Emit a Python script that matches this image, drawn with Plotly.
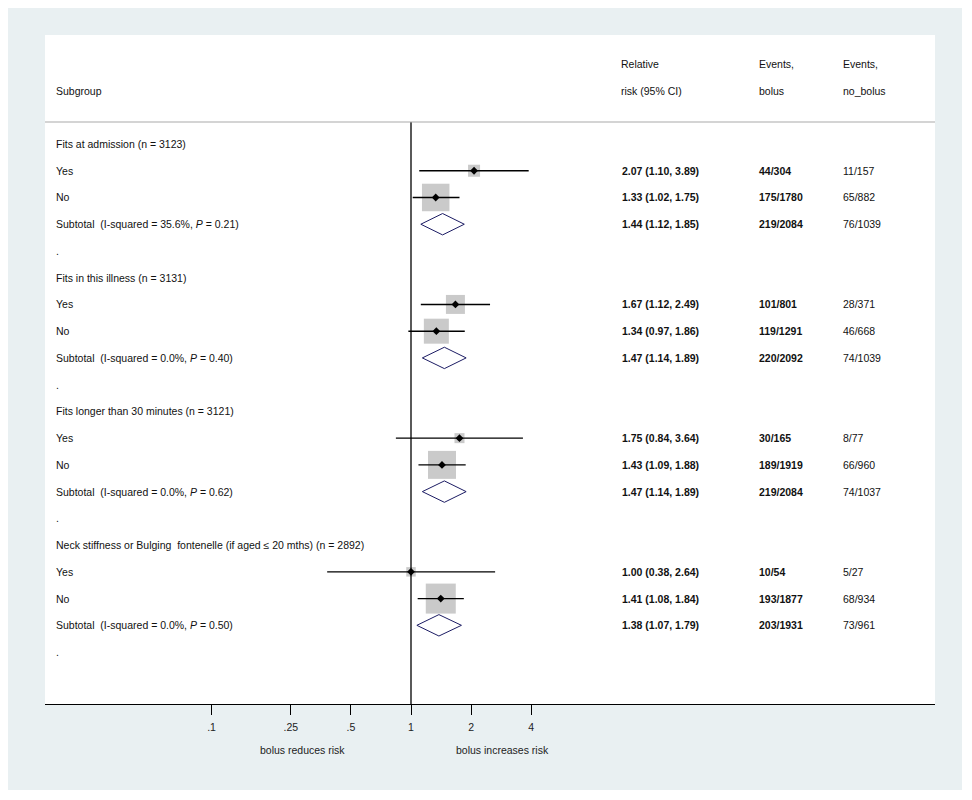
import plotly.graph_objects as go

# ---------------- data ----------------
labels = [
    "Fits at admission (n = 3123)", "Yes", "No",
    "Subtotal\u00a0\u00a0(I-squared = 35.6%, <i>P</i> = 0.21)", ".",
    "Fits in this illness (n = 3131)", "Yes", "No",
    "Subtotal\u00a0\u00a0(I-squared = 0.0%, <i>P</i> = 0.40)", ".",
    "Fits longer than 30 minutes (n = 3121)", "Yes", "No",
    "Subtotal\u00a0\u00a0(I-squared = 0.0%, <i>P</i> = 0.62)", ".",
    "Neck stiffness or Bulging\u00a0\u00a0fontenelle (if aged \u2264 20 mths) (n = 2892)", "Yes", "No",
    "Subtotal\u00a0\u00a0(I-squared = 0.0%, <i>P</i> = 0.50)", ".",
]
rr = [None, 2.07, 1.33, 1.44, None, None, 1.67, 1.34, 1.47, None,
      None, 1.75, 1.43, 1.47, None, None, 1.00, 1.41, 1.38, None]
ci_lo = [None, 1.10, 1.02, 1.12, None, None, 1.12, 0.97, 1.14, None,
         None, 0.84, 1.09, 1.14, None, None, 0.38, 1.08, 1.07, None]
ci_hi = [None, 3.89, 1.75, 1.85, None, None, 2.49, 1.86, 1.89, None,
         None, 3.64, 1.88, 1.89, None, None, 2.64, 1.84, 1.79, None]
weights = [None, 9.5, 49.7, None, None, None, 23.7, 41.1, None, None,
           None, 6.6, 51.5, None, None, None, 5.9, 59.2, None, None]
events_bolus = ["", "44/304", "175/1780", "219/2084", "", "", "101/801", "119/1291", "220/2092", "",
                "", "30/165", "189/1919", "219/2084", "", "", "10/54", "193/1877", "203/1931", ""]
events_nobolus = ["", "11/157", "65/882", "76/1039", "", "", "28/371", "46/668", "74/1039", "",
                  "", "8/77", "66/960", "74/1037", "", "", "5/27", "68/934", "73/961", ""]
tick_vals = [0.1, 0.25, 0.5, 1, 2, 4]
tick_text = [".1", ".25", ".5", "1", "2", "4"]
header_col1 = ["", "Subgroup"]
header_rr = ["Relative", "risk (95% CI)"]
header_eb = ["Events,", "bolus"]
header_en = ["Events,", "no_bolus"]
left_note = "bolus reduces risk"
right_note = "bolus increases risk"

# ---------------- geometry (figure pixels; page adds an 8px body margin) ----------------
OFF = 8
W, H = 954, 782
L, R, T, B = 45 - OFF, 935 - OFF, 35 - OFF, 704 - OFF   # plot area edges
ML, MR, MT, MB = L, W - R, T, H - B
PW, PH = R - L, B - T
x_one_px, px_per_dec = 411 - OFF, 199.5
row0_px, row_h = 144 - OFF, 26.74
TXT_PAD = 2  # annotation inner padding compensation


def px2paperx(px):
    return (px - OFF - L) / PW


def px2papery(py):
    return (B - (py - OFF)) / PH


xr = [(L - x_one_px) / px_per_dec, (R - x_one_px) / px_per_dec]
yr = [(B - row0_px) / row_h, (T - row0_px) / row_h]
header_line_y = (122 - 144) / row_h

FONT = "Liberation Sans, Arial, sans-serif"
FS = 10.5
BG = "#e9f0f2"

fig = go.Figure()

n = len(labels)
rows = list(range(n))

# boxes
bx, by, bs = [], [], []
for i in rows:
    if weights[i] is not None:
        bx.append(rr[i]); by.append(i); bs.append(3.9 * weights[i] ** 0.5)
fig.add_trace(go.Scatter(x=bx, y=by, mode="markers",
                         marker=dict(symbol="square", size=bs, color="#b4b4b4", line=dict(width=0)),
                         hoverinfo="skip"))

# CI lines for individual estimates
for i in rows:
    if weights[i] is not None:
        fig.add_trace(go.Scatter(x=[ci_lo[i], ci_hi[i]], y=[i, i], mode="lines",
                                 line=dict(color="black", width=1.4), hoverinfo="skip"))

# center dots
fig.add_trace(go.Scatter(x=bx, y=by, mode="markers",
                         marker=dict(symbol="diamond", size=6, color="black"), hoverinfo="skip"))

# subtotal diamonds
hh = 0.4
for i in rows:
    if rr[i] is not None and weights[i] is None:
        fig.add_trace(go.Scatter(
            x=[ci_lo[i], rr[i], ci_hi[i], rr[i], ci_lo[i]],
            y=[i, i - hh, i, i + hh, i],
            mode="lines", fill="toself", fillcolor="white",
            line=dict(color="#1c1c64", width=1), hoverinfo="skip"))

# null line at RR = 1
fig.add_trace(go.Scatter(x=[1, 1], y=[header_line_y, yr[0]], mode="lines",
                         line=dict(color="black", width=1.3), hoverinfo="skip"))

annotations = []


def add_text(txt, xpx, y, color="#111111", yref="y"):
    annotations.append(dict(text=txt, x=px2paperx(xpx - TXT_PAD), xref="paper", y=y, yref=yref,
                            xanchor="left", yanchor="middle", showarrow=False,
                            font=dict(family=FONT, size=FS, color=color)))


for i in rows:
    add_text(labels[i], 56, i)
    if rr[i] is not None:
        add_text(f"<b>{rr[i]:.2f} ({ci_lo[i]:.2f}, {ci_hi[i]:.2f})</b>", 622, i, color="#111111")
    if events_bolus[i]:
        add_text(f"<b>{events_bolus[i]}</b>", 759, i, color="#111111")
    if events_nobolus[i]:
        add_text(events_nobolus[i], 843, i)

for k, yy in enumerate([-3, -2]):
    if header_col1[k]:
        add_text(header_col1[k], 56, yy)
    add_text(header_rr[k], 621, yy)
    add_text(header_eb[k], 759, yy)
    add_text(header_en[k], 843, yy)

for txt, cx in [(left_note, 302), (right_note, 503)]:
    annotations.append(dict(text=txt, x=px2paperx(cx), xref="paper", y=px2papery(750), yref="paper",
                            xanchor="center", yanchor="middle", showarrow=False,
                            font=dict(family=FONT, size=FS, color="#222222")))

shapes = [
    dict(type="line", xref="paper", yref="y", x0=0, x1=1, y0=header_line_y, y1=header_line_y,
         line=dict(color="#a9a9a9", width=1)),
]

fig.update_layout(
    width=W, height=H,
    margin=dict(l=ML, r=MR, t=MT, b=MB, pad=0),
    paper_bgcolor=BG, plot_bgcolor="white",
    showlegend=False,
    font=dict(family=FONT, size=FS, color="#222222"),
    xaxis=dict(type="log", range=xr, tickvals=tick_vals, ticktext=tick_text,
               ticks="outside", ticklen=10, tickwidth=1, tickcolor="black",
               ticklabelstandoff=3,
               showline=True, linecolor="black", linewidth=1.3, mirror=False,
               showgrid=False, zeroline=False, fixedrange=True,
               tickfont=dict(family=FONT, size=FS, color="#222222")),
    yaxis=dict(range=yr, visible=False, showgrid=False, zeroline=False, fixedrange=True),
    annotations=annotations, shapes=shapes,
)

fig.write_html("out.html")
